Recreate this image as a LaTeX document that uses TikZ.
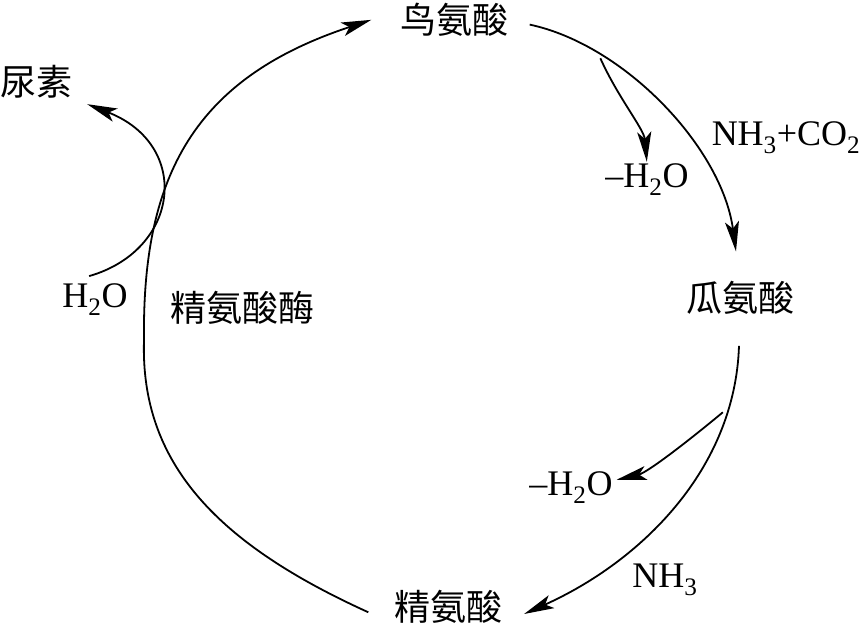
\documentclass[tikz,border=0pt]{standalone}
\usepackage{fontspec}
\setmainfont{Liberation Serif}
\newfontfamily\cjk{Noto Sans CJK SC}
\usetikzlibrary{arrows.meta, calc, positioning}

\begin{document}
\begin{tikzpicture}[x=1pt, y=-1pt, font=\fontsize{36}{40}\selectfont,
    lbl/.style={inner sep=0pt},
    cn/.style={lbl, font=\fontsize{36}{40}\selectfont\cjk},
    arr/.style={line width=1.8pt, -{Stealth[length=30pt, width=14pt, inset=7pt]}}]
\useasboundingbox (0,0) rectangle (860,631);
% substances
\node[cn] (orn) at (454,20) {鸟氨酸};
\node[cn] (cit) at (740,298) {瓜氨酸};
\node[cn] (arg) at (448,607) {精氨酸};
\node[cn] (urea) at (37,82) {尿素};
\node[cn] (enz) at (242,308) {精氨酸酶};
% small labels
\node[lbl] (nhco) at (786,138) {NH\textsubscript{3}+CO\textsubscript{2}};
\node[lbl] (w1) at (647,180) {–H\textsubscript{2}O};
\node[lbl] (w2) at (571,488) {–H\textsubscript{2}O};
\node[lbl] (nh) at (665,580) {NH\textsubscript{3}};
\node[lbl] (h2o) at (95,300) {H\textsubscript{2}O};

% cycle
\draw[arr, shorten <=22pt, shorten >=30pt] (orn.east) .. controls (625,45) and (722,148) .. coordinate[pos=0.28] (br1) (cit.north);
\draw[arr, shorten <=31pt, shorten >=24pt] (cit.south) .. controls (735,470) and (640,562) .. coordinate[pos=0.23] (br2) (arg.south east);
\draw[line width=1.8pt, shorten <=28pt] (arg.south west) .. controls (220,545) and (140,465) .. (144,340) coordinate (lj);
\draw[arr, shorten >=30pt] (lj) .. controls (142,175) and (195,78) .. (orn.170);

% side branches
\draw[arr, shorten >=2pt] (br1) .. controls +(18,40) and +(-3,-35) .. (w1.north);
\draw[arr, shorten >=4pt] (br2) .. controls +(-30,25) and +(35,-8) .. (w2.10);
\draw[arr, shorten <=28pt, shorten >=15pt] (h2o.north west) .. controls (180,250) and (192,145) .. (urea.south east);
\end{tikzpicture}
\end{document}
